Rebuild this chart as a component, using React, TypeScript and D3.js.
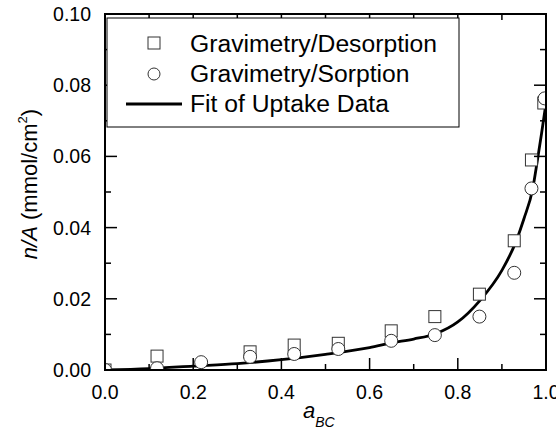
import React from "react";
import * as d3 from "d3";

const desorptionX = [0.0, 0.118, 0.329, 0.429, 0.529, 0.649, 0.748, 0.849, 0.928, 0.967, 0.995];
const desorptionY = [0.0, 0.0039, 0.0051, 0.007, 0.0075, 0.011, 0.015, 0.0213, 0.0363, 0.059, 0.075];

const sorptionX = [0.0, 0.118, 0.218, 0.329, 0.429, 0.529, 0.649, 0.748, 0.849, 0.928, 0.967, 0.997];
const sorptionY = [0.0, 0.0005, 0.0022, 0.0037, 0.0045, 0.0059, 0.0082, 0.0098, 0.015, 0.0273, 0.051, 0.0763];

const fitX = [0.0, 0.1, 0.2, 0.3, 0.4, 0.5, 0.6, 0.65, 0.7, 0.75, 0.8, 0.85, 0.9, 0.93, 0.95, 0.97, 0.98, 0.99, 1.0];
const fitY = [0.0, 0.0004, 0.0011, 0.0018, 0.0029, 0.0044, 0.0063, 0.0076, 0.0087, 0.0102, 0.0135, 0.0195, 0.028, 0.0355, 0.0425, 0.051, 0.0585, 0.0665, 0.075];

const xMajor = [0, 0.2, 0.4, 0.6, 0.8, 1.0];
const xMinor = [0.1, 0.3, 0.5, 0.7, 0.9];
const yMajor = [0, 0.02, 0.04, 0.06, 0.08, 0.1];
const yMinor = [0.01, 0.03, 0.05, 0.07, 0.09];

const legendLabels = ["Gravimetry/Desorption", "Gravimetry/Sorption", "Fit of Uptake Data"];

const FONT = "'Liberation Sans', Arial, Helvetica, sans-serif";

export default function App() {
  const W = 556, H = 435;
  const L = 105, R = 546, T = 14, B = 370;
  const x = d3.scaleLinear().domain([0, 1]).range([L, R]);
  const y = d3.scaleLinear().domain([0, 0.1]).range([B, T]);

  const fitPts: [number, number][] = fitX.map((v, i) => [v, fitY[i]]);
  const line = d3
    .line<[number, number]>()
    .x((d) => x(d[0]))
    .y((d) => y(d[1]))
    .curve(d3.curveMonotoneX);

  const majorLen = 12, minorLen = 6;

  return (
    <svg width={W} height={H} style={{ position: "absolute", left: 0, top: 0, background: "#fff" }} fontFamily={FONT}>
      <defs>
        <clipPath id="plotClip">
          <rect x={L} y={T} width={R - L} height={B - T} />
        </clipPath>
      </defs>
      <rect x={0} y={0} width={W} height={H} fill="#fff" />

      <g clipPath="url(#plotClip)">
        <path d={line(fitPts) || ""} fill="none" stroke="#000" strokeWidth={2.8} />
        {desorptionX.map((v, i) => (
          <rect key={"s" + i} x={x(v) - 6} y={y(desorptionY[i]) - 6} width={12} height={12} fill="#fff" stroke="#333" strokeWidth={1} />
        ))}
        {sorptionX.map((v, i) => (
          <circle key={"c" + i} cx={x(v)} cy={y(sorptionY[i])} r={6.5} fill="#fff" stroke="#333" strokeWidth={1} />
        ))}
      </g>

      {/* ticks */}
      <g stroke="#000" strokeWidth={1.5}>
        {xMajor.map((v) => (
          <g key={"xm" + v}>
            <line x1={x(v)} x2={x(v)} y1={B} y2={B - majorLen} />
            <line x1={x(v)} x2={x(v)} y1={T} y2={T + majorLen} />
          </g>
        ))}
        {xMinor.map((v) => (
          <g key={"xn" + v}>
            <line x1={x(v)} x2={x(v)} y1={B} y2={B - minorLen} />
            <line x1={x(v)} x2={x(v)} y1={T} y2={T + minorLen} />
          </g>
        ))}
        {yMajor.map((v) => (
          <g key={"ym" + v}>
            <line x1={L} x2={L + majorLen} y1={y(v)} y2={y(v)} />
            <line x1={R} x2={R - majorLen} y1={y(v)} y2={y(v)} />
          </g>
        ))}
        {yMinor.map((v) => (
          <g key={"yn" + v}>
            <line x1={L} x2={L + minorLen} y1={y(v)} y2={y(v)} />
            <line x1={R} x2={R - minorLen} y1={y(v)} y2={y(v)} />
          </g>
        ))}
      </g>

      <rect x={L} y={T} width={R - L} height={B - T} fill="none" stroke="#000" strokeWidth={2} />

      {/* tick labels */}
      <g fontSize={19.5} fill="#000">
        {xMajor.map((v) => (
          <text key={"xl" + v} x={x(v)} y={399} textAnchor="middle">
            {d3.format(".1f")(v)}
          </text>
        ))}
        {yMajor.map((v) => (
          <text key={"yl" + v} x={91} y={y(v)} dy="0.36em" textAnchor="end">
            {d3.format(".2f")(v)}
          </text>
        ))}
      </g>

      {/* axis titles */}
      <text x={303} y={418} fontSize={22} fontStyle="italic">
        a
        <tspan fontSize={14} dy={9}>BC</tspan>
      </text>
      <text transform="translate(37,184) rotate(-90)" textAnchor="middle" fontSize={22}>
        <tspan fontStyle="italic">n/A</tspan>
        <tspan> (mmol/cm</tspan>
        <tspan fontSize={13} dy={-10}>2</tspan>
        <tspan dy={10}>)</tspan>
      </text>

      {/* legend */}
      <rect x={107} y={18} width={352} height={109} fill="#fff" stroke="#000" strokeWidth={1} />
      <rect x={148} y={37} width={12} height={12} fill="#fff" stroke="#333" strokeWidth={1} />
      <circle cx={154} cy={74} r={6} fill="#fff" stroke="#333" strokeWidth={1} />
      <line x1={126} x2={182} y1={104} y2={104} stroke="#000" strokeWidth={2.8} />
      <g fontSize={24.7} fill="#000">
        <text x={190} y={52}>{legendLabels[0]}</text>
        <text x={190} y={82}>{legendLabels[1]}</text>
        <text x={190} y={112}>{legendLabels[2]}</text>
      </g>
    </svg>
  );
}
